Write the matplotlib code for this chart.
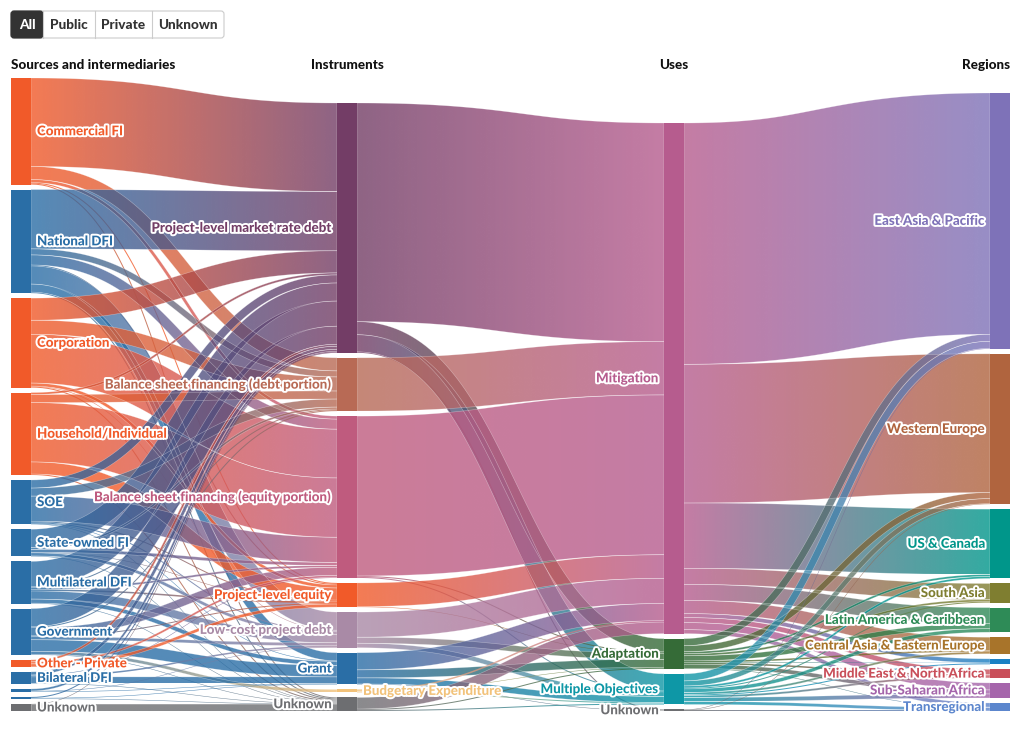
"""Climate finance flows: sources -> instruments -> uses -> regions (Sankey)."""

import matplotlib
matplotlib.use("Agg")
import matplotlib.pyplot as plt
import matplotlib.patheffects as pe
import numpy as np
from matplotlib.colors import to_rgb
from matplotlib.patches import FancyBboxPatch, PathPatch, Rectangle
from matplotlib.path import Path

# ------------------------------------------------------------------ data

SOURCES = ["Commercial FI", "National DFI", "Corporation", "Household/Individual",
           "SOE", "State-owned FI", "Multilateral DFI", "Government",
           "Other - Private", "Bilateral DFI", "Export Credit Agency",
           "Other - Public", "Unknown"]
INSTRUMENTS = ["Project-level market rate debt",
               "Balance sheet financing (debt portion)",
               "Balance sheet financing (equity portion)",
               "Project-level equity", "Low-cost project debt", "Grant",
               "Budgetary Expenditure", "Unknown"]
USES = ["Mitigation", "Adaptation", "Multiple Objectives", "Unknown"]
REGIONS = ["East Asia & Pacific", "Western Europe", "US & Canada", "South Asia",
           "Latin America & Caribbean", "Central Asia & Eastern Europe",
           "Other Oceania", "Middle East & North Africa", "Sub-Saharan Africa",
           "Transregional"]

# nodes drawn without a label (too thin in the original)
UNLABELLED = {"Export Credit Agency", "Other - Public", "Other Oceania"}

# rows: sources, cols: instruments
SRC_TO_INSTR = [
    [88, 13, 3, 1, 0, 0, 0, 1],
    [59, 6, 10, 1, 18, 8, 0, 1],
    [22, 14, 48.5, 3, 0.5, 0, 0, 1],
    [2, 8, 59, 12, 0, 0, 0, 1],
    [8, 8, 25, 1, 1, 0.5, 0, 0.5],
    [18, 2, 3, 0.5, 3, 0, 0, 0.5],
    [25, 1, 2, 1.5, 8, 4, 0, 0.5],
    [18, 1, 8, 1, 3, 11.5, 3, 0.5],
    [2, 0, 2, 3, 0, 0, 0, 0],
    [3, 0, 0.5, 0, 1.5, 6.5, 0, 0.5],
    [2, 0, 0, 0, 0.5, 0.5, 0, 0],
    [1, 0, 0, 0, 0, 0.5, 0, 0.5],
    [0.5, 0, 0, 0, 0, 0, 0, 6.5],
]
# rows: instruments, cols: uses
INSTR_TO_USE = [
    [217.5, 13, 17, 1],
    [53, 0, 0, 0],
    [159, 1, 1, 0],
    [23.5, 0.5, 0, 0],
    [25, 6, 4.5, 0],
    [17, 8, 6, 0.5],
    [1.5, 0.5, 1, 0],
    [11.5, 1, 1, 0],
]
# rows: uses, cols: regions
USE_TO_REGION = [
    [240, 138, 65, 16, 16, 13, 4, 5, 7, 4],
    [7, 6, 2, 2, 5, 1.5, 0.5, 1.5, 4, 0.5],
    [7, 5, 2, 1, 3.5, 2, 1, 2, 4, 3],
    [0.5, 0.5, 0, 0, 0, 0, 0, 0, 0, 0.5],
]

ORANGE, BLUE, GREY = "#F15A29", "#2A6EA6", "#6D6E71"
SOURCE_COLORS = [ORANGE, BLUE, ORANGE, ORANGE, BLUE, BLUE, BLUE, BLUE,
                 ORANGE, BLUE, BLUE, BLUE, GREY]
INSTRUMENT_COLORS = ["#733D66", "#B86A55", "#BF5B7E", ORANGE, "#A98AA6",
                     BLUE, "#F2C27A", GREY]
USE_COLORS = ["#B65C8E", "#356B37", "#0E97A6", GREY]
REGION_COLORS = ["#7E72B8", "#B0643E", "#00968A", "#7F7E30", "#2E8B57",
                 "#A8742A", "#1B80C3", "#C94F5A", "#A565AB", "#5C86CD"]

HEADERS = ["Sources and intermediaries", "Instruments", "Uses", "Regions"]
BUTTONS = ["All", "Public", "Private", "Unknown"]

# ---------------------------------------------------------------- layout

W, H = 1020, 729
COL_X = [11, 337, 664, 990]
NODE_W = 20
PAD = 5
TOP, BOTTOM = 78, 711
LINK_ALPHA = 0.8
FONT = "Lato"
LABEL_SIZE = 9.6

columns = [SOURCES, INSTRUMENTS, USES, REGIONS]
colors = [SOURCE_COLORS, INSTRUMENT_COLORS, USE_COLORS, REGION_COLORS]
stages = [np.array(m, dtype=float) for m in (SRC_TO_INSTR, INSTR_TO_USE, USE_TO_REGION)]

values = []
for c, names in enumerate(columns):
    inflow = stages[c - 1].sum(axis=0) if c > 0 else np.zeros(len(names))
    outflow = stages[c].sum(axis=1) if c < 3 else np.zeros(len(names))
    values.append(np.maximum(inflow, outflow))

ky = min((BOTTOM - TOP - (len(v) - 1) * PAD) / v.sum() for v in values)

tops = []
for v in values:
    y = BOTTOM - v.sum() * ky - (len(v) - 1) * PAD
    t = []
    for val in v:
        t.append(y)
        y += val * ky + PAD
    tops.append(np.array(t))


def ribbon(x0, x1, yc0, yc1, w, n=80):
    t = np.linspace(0, 1, n)
    xm = (x0 + x1) / 2
    bx = (1 - t) ** 3 * x0 + 3 * (1 - t) ** 2 * t * xm + 3 * (1 - t) * t ** 2 * xm + t ** 3 * x1
    by = (1 - t) ** 3 * yc0 + 3 * (1 - t) ** 2 * t * yc0 + 3 * (1 - t) * t ** 2 * yc1 + t ** 3 * yc1
    dx = 3 * (1 - t) ** 2 * (xm - x0) + 3 * t ** 2 * (x1 - xm)
    dy = 6 * (1 - t) * t * (yc1 - yc0)
    nrm = np.hypot(dx, dy)
    nx, ny = -dy / nrm, dx / nrm
    upper = np.column_stack([bx + nx * w / 2, by + ny * w / 2])
    lower = np.column_stack([bx - nx * w / 2, by - ny * w / 2])
    verts = np.vstack([upper, lower[::-1], upper[:1]])
    codes = [Path.MOVETO] + [Path.LINETO] * (len(verts) - 2) + [Path.CLOSEPOLY]
    return Path(verts, codes)


fig = plt.figure(figsize=(W / 100, H / 100), dpi=100)
ax = fig.add_axes([0, 0, 1, 1])
ax.set_xlim(0, W)
ax.set_ylim(H, 0)
ax.axis("off")

# ----------------------------------------------------------------- links
for s, m in enumerate(stages):
    x0 = COL_X[s] + NODE_W
    x1 = COL_X[s + 1]
    out_off = np.cumsum(np.hstack([np.zeros((m.shape[0], 1)), m[:, :-1]]), axis=1) * ky
    in_off = np.cumsum(np.vstack([np.zeros((1, m.shape[1])), m[:-1, :]]), axis=0) * ky
    for i in range(m.shape[0]):
        for j in range(m.shape[1]):
            v = m[i, j]
            if v <= 0:
                continue
            w = v * ky
            yc0 = tops[s][i] + out_off[i, j] + w / 2
            yc1 = tops[s + 1][j] + in_off[i, j] + w / 2
            path = ribbon(x0, x1, yc0, yc1, w)
            patch = PathPatch(path, facecolor="none", edgecolor="none")
            ax.add_patch(patch)
            c0 = np.array(to_rgb(colors[s][i]))
            c1 = np.array(to_rgb(colors[s + 1][j]))
            g = np.linspace(0, 1, 128)[:, None]
            img = np.ones((1, 128, 4))
            img[0, :, :3] = c0 * (1 - g) + c1 * g
            img[0, :, 3] = LINK_ALPHA
            vy = path.vertices[:, 1]
            im = ax.imshow(img, extent=(x0, x1, vy.max(), vy.min()),
                           interpolation="bilinear", aspect="auto", zorder=1)
            im.set_clip_path(patch)
            if w > 2:
                ax.add_patch(PathPatch(path, facecolor="none", edgecolor="white",
                                       lw=0.4, alpha=0.4, zorder=1.5))

# ----------------------------------------------------------------- nodes
stroke = [pe.withStroke(linewidth=2.8, foreground="white")]
for c, names in enumerate(columns):
    for i, name in enumerate(names):
        y, h = tops[c][i], values[c][i] * ky
        ax.add_patch(Rectangle((COL_X[c], y), NODE_W, h, facecolor=colors[c][i],
                               edgecolor="none", zorder=3))
        if name in UNLABELLED:
            continue
        right_side = c == 0 or name == "Budgetary Expenditure"
        tx = COL_X[c] + NODE_W + 6 if right_side else COL_X[c] - 5
        ax.text(tx, y + h / 2, name, ha="left" if right_side else "right",
                va="center", fontsize=LABEL_SIZE, fontweight="black", family=FONT,
                color=colors[c][i], path_effects=stroke, zorder=5)

# --------------------------------------------------------------- headers
head_x = [COL_X[0], COL_X[1] + NODE_W / 2, COL_X[2] + NODE_W / 2, COL_X[3] + NODE_W]
head_ha = ["left", "center", "center", "right"]
for text, x, ha in zip(HEADERS, head_x, head_ha):
    ax.text(x, 65, text, ha=ha, va="center", fontsize=9.7, fontweight="black",
            family=FONT, color="#111111")

# ---------------------------------------------------------------- buttons
bx_edges = [11, 43, 95, 152, 224]
ax.add_patch(FancyBboxPatch((11, 11), 213, 27, boxstyle="round,pad=0,rounding_size=3",
                            facecolor="white", edgecolor="#CCCCCC", lw=0.8, zorder=2))
ax.add_patch(FancyBboxPatch((11, 11), 32, 27, boxstyle="round,pad=0,rounding_size=3",
                            facecolor="#333333", edgecolor="#333333", lw=0.8, zorder=3))
for k, label in enumerate(BUTTONS):
    if k > 0:
        ax.plot([bx_edges[k]] * 2, [11, 38], color="#CCCCCC", lw=0.8, zorder=3)
    ax.text((bx_edges[k] + bx_edges[k + 1]) / 2, 24.5, label, ha="center", va="center",
            fontsize=9.8, fontweight="black", family=FONT,
            color="white" if k == 0 else "#333333", zorder=4)

fig.savefig("out.png", dpi=100)
